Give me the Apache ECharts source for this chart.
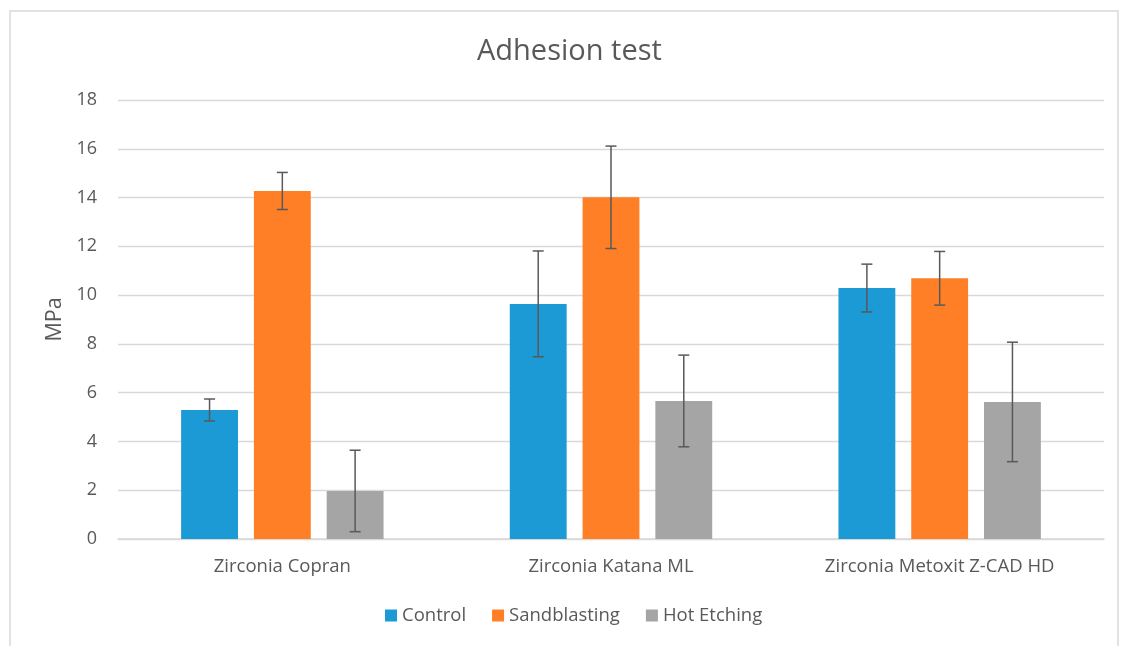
<!DOCTYPE html>
<html>
<head>
<meta charset="utf-8">
<script src="https://cdn.jsdelivr.net/npm/echarts@6/dist/echarts.min.js"></script>
<style>html,body{margin:0;padding:0;background:#fff}#c{width:1123px;height:646px}</style>
</head>
<body>
<div id="c"></div>
<script>
const categories = ['Zirconia Copran', 'Zirconia Katana ML', 'Zirconia Metoxit Z-CAD HD'];
const seriesNames = ['Control', 'Sandblasting', 'Hot Etching'];
const control = [5.29, 9.64, 10.29];
const sandblasting = [14.27, 14.01, 10.69];
const hotEtching = [1.97, 5.66, 5.62];
const controlErr = [0.45, 2.17, 0.98];
const sandblastingErr = [0.76, 2.1, 1.1];
const hotEtchingErr = [1.67, 1.88, 2.45];
const yTicks = [0, 2, 4, 6, 8, 10, 12, 14, 16, 18];

const colors = ['#1B9AD6', '#FF7F27', '#A5A5A5'];
const values = [control, sandblasting, hotEtching];
const errs = [controlErr, sandblastingErr, hotEtchingErr];
const FONT = 'Open Sans';
const BAR_W = 0.173, GAP = 0.28;

const chart = echarts.init(document.getElementById('c'));
const series = [];
values.forEach((v, i) => {
  series.push({
    name: seriesNames[i], type: 'bar', data: v, barWidth: (BAR_W * 100) + '%', barGap: (GAP * 100) + '%',
    itemStyle: { color: colors[i] }, z: 2
  });
});
values.forEach((v, i) => {
  series.push({
    type: 'custom', name: seriesNames[i] + ' err', z: 5, silent: true,
    data: v.map((val, k) => [k, val - errs[i][k], val + errs[i][k]]),
    renderItem: function (params, api) {
      const k = api.value(0);
      const lo = api.coord([k, api.value(1)]);
      const hi = api.coord([k, api.value(2)]);
      const cw = api.size([1, 0])[0];
      const bw = cw * BAR_W;
      const off = (i - 1) * (bw + bw * GAP);
      const x = lo[0] + off;
      const cap = 5.5;
      const st = { stroke: '#595959', lineWidth: 1.5 };
      return {
        type: 'group', children: [
          { type: 'line', shape: { x1: x, y1: lo[1], x2: x, y2: hi[1] }, style: st },
          { type: 'line', shape: { x1: x - cap, y1: lo[1], x2: x + cap, y2: lo[1] }, style: st },
          { type: 'line', shape: { x1: x - cap, y1: hi[1], x2: x + cap, y2: hi[1] }, style: st }
        ]
      };
    }
  });
});

chart.setOption({
  animation: false,
  textStyle: { fontFamily: FONT },
  title: {
    text: 'Adhesion test', left: 472, top: 32,
    textStyle: { fontFamily: FONT, fontSize: 29, fontWeight: 'normal', color: '#595959' }
  },
  graphic: [{
    type: 'rect', shape: { x: 10, y: 11, width: 1108, height: 700 },
    style: { fill: 'none', stroke: '#D9D9D9', lineWidth: 1.5 }, silent: true
  }],
  legend: {
    data: seriesNames, bottom: 16, left: 380, itemWidth: 12, itemHeight: 12, itemGap: 26,
    icon: 'rect',
    textStyle: { fontFamily: FONT, fontSize: 18.5, color: '#595959' }
  },
  grid: { left: 118, right: 19, top: 100, bottom: 107 },
  xAxis: {
    type: 'category', data: categories,
    axisLine: { lineStyle: { color: '#D9D9D9', width: 1.5 } },
    axisTick: { show: false },
    axisLabel: { fontFamily: FONT, fontSize: 18.5, color: '#595959', margin: 18 }
  },
  yAxis: {
    type: 'value', min: yTicks[0], max: yTicks[yTicks.length - 1], interval: 2,
    name: 'MPa', nameLocation: 'middle', nameGap: 52,
    nameTextStyle: { fontFamily: FONT, fontSize: 21.5, color: '#595959' },
    axisLine: { show: false }, axisTick: { show: false },
    axisLabel: { fontFamily: FONT, fontSize: 18, color: '#595959', margin: 21 },
    splitLine: { lineStyle: { color: '#D9D9D9', width: 1.3 } }
  },
  series: series
});
</script>
</body>
</html>
